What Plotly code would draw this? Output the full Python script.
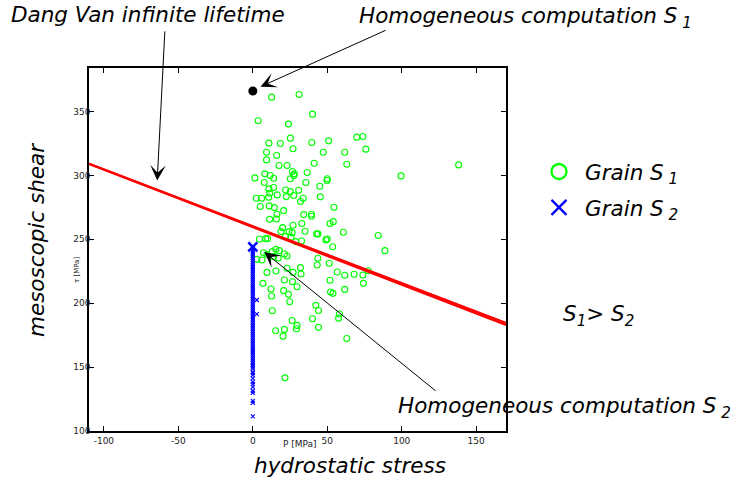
import plotly.graph_objects as go

# ---------------- data ----------------
grain_s1_p = [12.6, 31.1, 3.6, 40.1, 23.9, 25.2, 10.8, 18.5, 39.6, 50.9, 69.8, 73.9,
              9.2, 27.0, 47.3, 61.7, 75.9, 16.0, 9.2, 17.6, 23.0, 41.2, 63.1,
              1.4, 8.1, 11.7, 14.0, 26.6, 27.9, 25.2, 27.5, 36.5, 7.7, 35.6, 50.0, 49.8,
              99.5, 45.0, 10.8, 14.0, 22.1, 25.2, 30.8, 11.3, 16.4, 22.5, 27.5,
              2.3, 5.9, 10.6, 33.8, 45.3, 5.0, 11.0, 14.4, 32.0, 54.5, 20.7, 16.2,
              15.8, 11.3, 34.2, 39.4, 39.4, 51.8, 54.0, 32.9, 27.0, 20.0,
              4.5, 8.6, 9.9, 18.9, 21.8, 24.3, 25.7, 28.8, 32.7, 26.4, 35.1, 42.8, 43.7,
              50.0, 49.1, 53.6, 60.8, 84.2, 88.7, 7.2, 2.7, 6.1, 9.5, 13.1, 15.5, 17.8,
              14.0, 17.1, 21.2, 23.0, 9.5, 15.5, 23.0, 27.0, 32.0, 32.4, 6.8, 21.2,
              26.6, 29.7, 43.7, 43.2, 51.3, 56.7, 61.7, 68.0, 73.9, 77.5, 74.3, 51.8,
              61.7, 52.2, 53.8, 12.2, 12.6, 20.7, 23.9, 24.8, 13.1, 42.3, 44.1, 40.1,
              26.4, 58.1, 57.6, 15.3, 21.2, 20.3, 29.7, 29.3, 44.1, 63.1, 21.6, 138.2]
grain_s1_tau = [361.2, 363.3, 342.7, 347.9, 340.1, 329.1, 325.2, 324.9, 325.7, 327.0, 329.9, 330.4,
                318.1, 320.8, 318.1, 318.1, 320.5, 315.5, 312.1, 307.7, 307.7, 309.5, 308.7,
                298.0, 301.2, 299.9, 297.8, 303.0, 301.2, 297.3, 299.9, 302.2, 294.4, 294.4, 297.3, 296.0,
                299.6, 291.5, 289.4, 290.5, 288.6, 287.3, 288.4, 286.0, 284.7, 283.4, 284.2,
                282.1, 282.1, 282.9, 282.1, 283.2, 275.6, 276.1, 274.8, 279.5, 275.0, 272.4, 269.6,
                265.9, 265.6, 269.3, 269.6, 268.0, 262.3, 263.8, 262.3, 261.0, 259.1,
                250.2, 250.5, 250.5, 256.0, 252.1, 256.0, 251.6, 248.2, 248.7, 255.2, 256.3, 254.2, 254.2,
                250.2, 249.5, 244.2, 255.5, 252.9, 241.1, 239.5, 234.3, 233.8, 238.0, 240.3, 242.1, 241.1,
                236.4, 235.4, 238.5, 236.9, 224.1, 225.2, 227.3, 224.1, 227.8, 222.8, 215.5, 218.1,
                216.8, 212.9, 235.1, 229.9, 231.2, 224.4, 221.8, 222.6, 222.0, 225.4, 215.5, 217.9,
                210.8, 208.7, 207.7, 211.1, 205.6, 209.8, 206.9, 201.1, 194.1, 198.3, 194.3, 187.8,
                186.5, 191.5, 188.3, 178.4, 179.5, 174.2, 182.6, 180.0, 181.1, 172.4, 141.6, 308.2]

grain_s2_tau = [111.5, 122.0, 123.6, 129.8, 131.5, 134.5, 136.6, 138.5, 141.1, 143.7, 145.2, 146.3,
                148.9, 150.4, 151.5, 153.0, 154.1, 155.8, 157.2, 158.9, 160.3, 161.8, 163.5, 165.0,
                166.2, 167.9, 169.4, 170.8, 172.5, 174.0, 175.6, 177.1, 178.4, 180.2, 181.7, 183.0,
                184.6, 186.3, 187.8, 189.1, 190.7, 192.4, 193.8, 195.2, 196.9, 198.3, 199.8, 201.4,
                202.9, 204.3, 205.8, 207.5, 208.9, 210.3, 211.9, 213.4, 214.8, 216.2, 217.9, 219.3,
                220.8, 222.4, 223.7, 225.2, 226.8, 228.3, 229.6, 231.1, 232.7, 234.2, 235.6, 237.0,
                238.5, 239.9, 241.2, 242.6, 202.5, 191.5]
grain_s2_p = [0.0] * 76 + [2.7, 2.7]

dang_van_p = [-110, 170]
dang_van_tau_a = [309.0, 183.0]
dang_van_tau_b = [309.0, 184.6]

homog_s1_p = [0.0]
homog_s1_tau = [366.0]
homog_s2_p = [0.0]
homog_s2_tau = [244.0]

x_tick_vals = [-100, -50, 0, 50, 100, 150]
x_tick_text = ["-100", "-50", "0", "50", "100", "150"]
y_tick_vals = [100, 150, 200, 250, 300, 350]
y_tick_text = ["100", "150", "200", "250", "300", "350"]

# ---------------- layout helpers ----------------
W, H = 740, 482
ML, MR, MT, MB = 89, 234, 68, 51
PW, PH = W - ML - MR, H - MT - MB


def px(x):
    return (x - ML) / PW


def py(y):
    return (H - MB - y) / PH


BIG = dict(family="DejaVu Sans", size=21.5, color="black", style="italic")
SMALL = dict(family="DejaVu Sans", size=9, color="#222")

fig = go.Figure()

fig.add_trace(go.Scatter(x=grain_s1_p, y=grain_s1_tau, mode="markers", showlegend=False,
                         marker=dict(symbol="circle-open", size=6, color="#00ff00",
                                     line=dict(width=1.1, color="#00ff00"))))
fig.add_trace(go.Scatter(x=grain_s2_p, y=grain_s2_tau, mode="markers", showlegend=False,
                         marker=dict(symbol="x-thin", size=4, color="#0000ff",
                                     line=dict(width=1.1, color="#0000ff"))))
fig.add_trace(go.Scatter(x=dang_van_p, y=dang_van_tau_a, mode="lines", showlegend=False,
                         line=dict(color="#ff0000", width=2.3)))
fig.add_trace(go.Scatter(x=dang_van_p, y=dang_van_tau_b, mode="lines", showlegend=False,
                         line=dict(color="#ff0000", width=2.3)))
fig.add_trace(go.Scatter(x=homog_s1_p, y=homog_s1_tau, mode="markers", showlegend=False,
                         marker=dict(symbol="circle", size=9, color="black")))
fig.add_trace(go.Scatter(x=homog_s2_p, y=homog_s2_tau, mode="markers", showlegend=False,
                         marker=dict(symbol="x-thin", size=9, color="#0000ff",
                                     line=dict(width=2.6, color="#0000ff"))))

# legend entries
fig.add_trace(go.Scatter(x=[None], y=[None], mode="markers", name="Grain S<sub> 1</sub>",
                         legendgroup="g1",
                         marker=dict(symbol="circle-open", size=15, color="#00ff00",
                                     line=dict(width=2.3, color="#00ff00"))))
fig.add_trace(go.Scatter(x=[None], y=[None], mode="markers", name="Grain S<sub> 2</sub>",
                         legendgroup="g2",
                         marker=dict(symbol="x-thin", size=15, color="#0000ff",
                                     line=dict(width=2.3, color="#0000ff"))))

axis_common = dict(showline=True, linecolor="black", linewidth=1.5, mirror="ticks",
                   ticks="inside", ticklen=5, tickwidth=1, tickcolor="black",
                   showgrid=False, zeroline=False, tickfont=SMALL)

fig.update_layout(
    width=W, height=H,
    margin=dict(l=ML, r=MR, t=MT, b=MB, pad=0),
    paper_bgcolor="white", plot_bgcolor="white",
    xaxis=dict(range=[-110, 170], tickvals=x_tick_vals, ticktext=x_tick_text, **axis_common),
    yaxis=dict(range=[100, 384], tickvals=y_tick_vals, ticktext=y_tick_text,
               ticklabelstandoff=-5, **axis_common),
    legend=dict(x=px(533), y=py(151), xanchor="left", yanchor="top",
                font=BIG, bgcolor="rgba(0,0,0,0)", borderwidth=0,
                tracegroupgap=5, itemwidth=42),
)

# free text
texts = [
    ("Dang Van infinite lifetime", 9, 15, "left", 0, BIG),
    ("Homogeneous computation S<sub> 1</sub>", 357, 18, "left", 0, BIG),
    ("Homogeneous computation S<sub> 2</sub>", 396, 407, "left", 0, BIG),
    ("S<sub>1</sub>> S<sub>2</sub>", 561, 315, "left", 0, BIG),
    ("hydrostatic stress", 350, 465, "center", 0, BIG),
    ("mesoscopic shear", 36, 240, "center", -90, BIG),
    ("P [MPa]", 300, 444, "center", 0, SMALL),
    ("τ [MPa]", 77, 270, "center", -90, dict(family="DejaVu Sans", size=7, color="#222")),
]
for t, x, y, xa, ang, f in texts:
    fig.add_annotation(text=t, x=px(x), y=py(y), xref="paper", yref="paper",
                       xanchor=xa, yanchor="middle", showarrow=False, textangle=ang,
                       font=f)

# arrows (tip in data coords, tail as pixel offset)
arrows = [
    (-64.2, 295.9, 7.7, -150.7),
    (5.2, 369.4, 126.5, -57.0),
    (7.8, 240.0, 172.7, 140.0),
]
for x, y, ax, ay in arrows:
    fig.add_annotation(x=x, y=y, xref="x", yref="y", ax=ax, ay=ay, text="",
                       showarrow=True, arrowhead=3, arrowsize=2.6, arrowwidth=1,
                       arrowcolor="black", standoff=0)

fig.write_html("out.html", config={"displayModeBar": False},
               post_script="document.body.style.margin='0';document.body.style.overflow='hidden';")
